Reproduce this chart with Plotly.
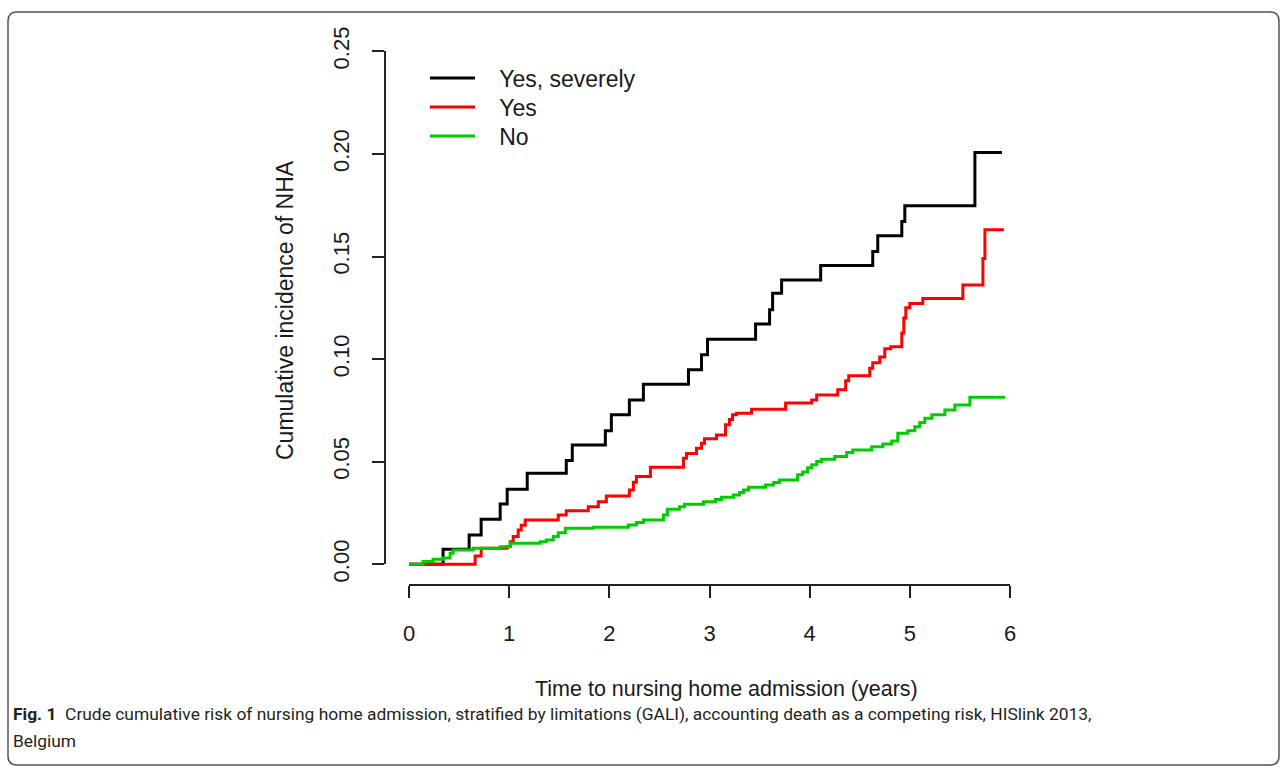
import plotly.graph_objects as go

W, H = 1282, 767

# ---------------- data ----------------
series_names = ["Yes, severely", "Yes", "No"]
series_colors = ["#000000", "#FF0000", "#00CD00"]

t_severe = [0.00, 0.34, 0.60, 0.72, 0.91, 0.98, 1.18, 1.57, 1.63, 1.96, 2.02, 2.20, 2.34,
            2.79, 2.92, 2.98, 3.46, 3.60, 3.63, 3.72, 4.11, 4.63, 4.68, 4.92, 4.95, 5.65, 5.92]
v_severe = [0.0, 0.0073, 0.0143, 0.0219, 0.0294, 0.0365, 0.0443, 0.0505, 0.0581, 0.0650, 0.0728,
            0.0800, 0.0877, 0.0948, 0.1020, 0.1096, 0.1170, 0.1240, 0.1320, 0.1385, 0.1455,
            0.1523, 0.1600, 0.1670, 0.1746, 0.2006, 0.2006]

t_yes = [0.00, 0.66, 0.72, 0.98, 1.01, 1.04, 1.09, 1.12, 1.16, 1.49, 1.57, 1.79, 1.89, 1.97,
         2.20, 2.24, 2.27, 2.41, 2.74, 2.77, 2.87, 2.92, 2.95, 3.07, 3.16, 3.20, 3.23, 3.27,
         3.42, 3.76, 4.02, 4.07, 4.28, 4.36, 4.39, 4.60, 4.63, 4.70, 4.75, 4.81, 4.92, 4.94,
         4.96, 5.00, 5.13, 5.53, 5.73, 5.75, 5.94]
v_yes = [0.0, 0.0040, 0.0078, 0.0086, 0.0110, 0.0135, 0.0167, 0.0190, 0.0216, 0.0240, 0.0261,
         0.0280, 0.0305, 0.0333, 0.0362, 0.0400, 0.0427, 0.0473, 0.0517, 0.0540, 0.0565,
         0.0590, 0.0612, 0.0630, 0.0679, 0.0705, 0.0728, 0.0736, 0.0755, 0.0785, 0.0800,
         0.0825, 0.0850, 0.0894, 0.0918, 0.0955, 0.0982, 0.1010, 0.1050, 0.1060, 0.1126,
         0.1200, 0.1250, 0.1270, 0.1295, 0.1360, 0.1490, 0.1630, 0.1630]

t_no = [0.00, 0.14, 0.24, 0.34, 0.41, 0.44, 0.64, 0.91, 1.01, 1.31, 1.37, 1.44, 1.49, 1.56,
        1.84, 2.19, 2.27, 2.34, 2.54, 2.58, 2.70, 2.75, 2.94, 3.06, 3.12, 3.24, 3.30, 3.34,
        3.39, 3.56, 3.64, 3.70, 3.88, 3.93, 3.98, 4.02, 4.07, 4.12, 4.25, 4.37, 4.43, 4.62,
        4.73, 4.82, 4.88, 4.98, 5.05, 5.10, 5.15, 5.22, 5.35, 5.45, 5.60, 5.95]
v_no = [0.0, 0.0013, 0.0025, 0.0030, 0.0054, 0.0070, 0.0078, 0.0085, 0.0102, 0.0110, 0.0118,
        0.0135, 0.0154, 0.0175, 0.0180, 0.0191, 0.0203, 0.0216, 0.0240, 0.0268, 0.0280,
        0.0292, 0.0305, 0.0315, 0.0326, 0.0338, 0.0349, 0.0362, 0.0375, 0.0386, 0.0398,
        0.0410, 0.0436, 0.0450, 0.0470, 0.0485, 0.0500, 0.0512, 0.0525, 0.0544, 0.0557,
        0.0572, 0.0586, 0.0600, 0.0638, 0.0650, 0.0670, 0.0690, 0.0711, 0.0728, 0.0752,
        0.0776, 0.0814, 0.0814]

x_ticks = [0, 1, 2, 3, 4, 5, 6]
x_tick_text = ["0", "1", "2", "3", "4", "5", "6"]
y_ticks = [0.00, 0.05, 0.10, 0.15, 0.20, 0.25]
y_tick_text = ["0.00", "0.05", "0.10", "0.15", "0.20", "0.25"]

x_title = "Time to nursing home admission (years)"
y_title = "Cumulative incidence of NHA"
caption_bold = "Fig. 1"
caption_line1 = ("Crude cumulative risk of nursing home admission, stratified by limitations (GALI), "
                 "accounting death as a competing risk, HISlink 2013,")
caption_line2 = "Belgium"

# ---------------- figure ----------------
FONT = "Liberation Sans, Arial, sans-serif"
CAP_FONT = "Roboto, sans-serif"
TXT = "#1a1a1a"


def px(x):
    return x / W


def py(y):
    return 1 - y / H


fig = go.Figure()
all_t = [t_severe, t_yes, t_no]
all_v = [v_severe, v_yes, v_no]
legend_ids = ["legend", "legend2", "legend3"]
legend_rows = [78, 107, 136]
for name, col, t, v, lg in zip(series_names, series_colors, all_t, all_v, legend_ids):
    fig.add_trace(go.Scatter(x=t, y=v, mode="lines", name="\u00a0\u00a0\u00a0" + name,
                             line=dict(color=col, width=3, shape="hv"),
                             hoverinfo="skip", legend=lg))

# invisible trace carrying the visible (R-style) axes
fig.add_trace(go.Scatter(x=[0, 6], y=[0, 0.25], xaxis="x2", yaxis="y2", mode="markers",
                         marker=dict(opacity=0), showlegend=False, hoverinfo="skip"))

axis_common = dict(showline=True, linecolor="#222", linewidth=2, ticks="outside", ticklen=12,
                   tickwidth=2, tickcolor="#222", tickfont=dict(size=22, color=TXT, family=FONT),
                   showgrid=False, zeroline=False, automargin=False)

legend_style = dict(xanchor="left", yanchor="middle", bgcolor="rgba(0,0,0,0)",
                    font=dict(size=23, color=TXT, family=FONT), itemwidth=45,
                    borderwidth=0)

fig.update_layout(
    width=W, height=H, autosize=False,
    margin=dict(l=0, r=0, t=0, b=0, pad=0),
    paper_bgcolor="white", plot_bgcolor="rgba(0,0,0,0)",
    font=dict(family=FONT, size=22, color=TXT),
    xaxis=dict(domain=[px(385), px(1034)], range=[-0.24, 6.24], visible=False, automargin=False),
    yaxis=dict(domain=[py(584.8), py(30.5)], range=[-0.01, 0.26], visible=False, automargin=False),
    xaxis2=dict(domain=[px(409), px(1010)], range=[0, 6], anchor="free", position=py(585),
                tickvals=x_ticks, ticktext=x_tick_text, ticklabelstandoff=17, **axis_common),
    yaxis2=dict(domain=[py(564.3), py(51.3)], range=[0, 0.25], anchor="free", position=px(385),
                tickvals=y_ticks, ticktext=y_tick_text, tickangle=-90,
                ticklabelstandoff=14, **axis_common),
    legend=dict(x=px(425), y=py(legend_rows[0]), **legend_style),
    legend2=dict(x=px(425), y=py(legend_rows[1]), **legend_style),
    legend3=dict(x=px(425), y=py(legend_rows[2]), **legend_style),
    showlegend=True,
)

fig.add_annotation(text=x_title, x=px(727), y=py(689), xref="paper", yref="paper",
                   showarrow=False, font=dict(size=21.5, color=TXT, family=FONT),
                   xanchor="center", yanchor="middle")
fig.add_annotation(text=y_title, x=px(285), y=py(310), xref="paper", yref="paper",
                   showarrow=False, textangle=-90, font=dict(size=23, color=TXT, family=FONT),
                   xanchor="center", yanchor="middle")
fig.add_annotation(text="<b>" + caption_bold + "</b>  " + caption_line1, x=px(11), y=py(714),
                   xref="paper", yref="paper", showarrow=False, xanchor="left", yanchor="middle",
                   font=dict(size=17.4, color="#231f20", family=CAP_FONT))
fig.add_annotation(text=caption_line2, x=px(11), y=py(741),
                   xref="paper", yref="paper", showarrow=False, xanchor="left", yanchor="middle",
                   font=dict(size=17.4, color="#231f20", family=CAP_FONT))

# rounded frame around the figure
x0, x1, y0, y1, r = 8, 1279, 12, 765, 9
path = (f"M {px(x0)},{py(y0 + r)} Q {px(x0)},{py(y0)} {px(x0 + r)},{py(y0)} "
        f"L {px(x1 - r)},{py(y0)} Q {px(x1)},{py(y0)} {px(x1)},{py(y0 + r)} "
        f"L {px(x1)},{py(y1 - r)} Q {px(x1)},{py(y1)} {px(x1 - r)},{py(y1)} "
        f"L {px(x0 + r)},{py(y1)} Q {px(x0)},{py(y1)} {px(x0)},{py(y1 - r)} Z")
fig.add_shape(type="path", path=path, xref="paper", yref="paper",
              line=dict(color="#555", width=1.5))

# remove the browser's default page margin so the figure sits at the window origin
fig.write_html("out.html", config={"displayModeBar": False},
               post_script="document.body.style.margin='0';")
